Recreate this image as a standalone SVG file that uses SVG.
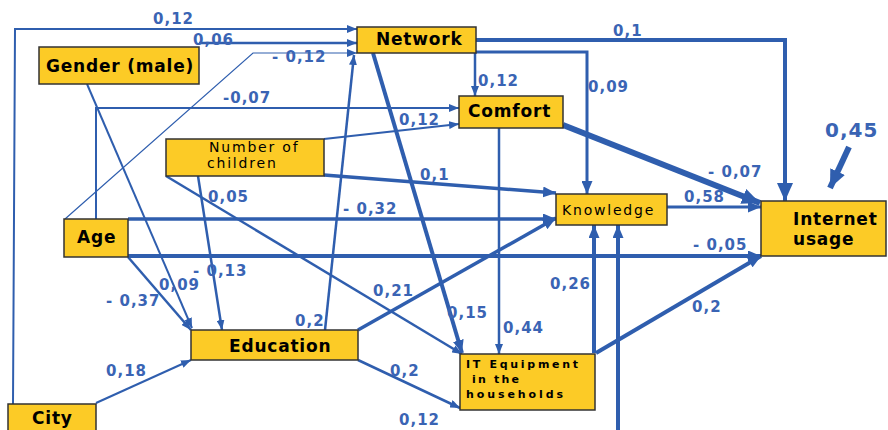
<svg xmlns="http://www.w3.org/2000/svg" width="888" height="430" viewBox="0 0 888 430">
<style>
.c{fill:none;stroke:#2f5eae;stroke-linejoin:miter}
.n rect{fill:#fccb26;stroke:#333;stroke-width:1.5}
.nt{font-family:"DejaVu Sans",sans-serif;font-weight:bold;font-size:17px;letter-spacing:0.8px;fill:#000}
.ns{font-family:"DejaVu Sans",sans-serif;font-size:14px;letter-spacing:1.8px;fill:#000}
.it{font-family:"DejaVu Sans",sans-serif;font-weight:bold;font-size:11px;fill:#000}
.l{font-family:"DejaVu Sans",sans-serif;font-weight:bold;font-size:15px;letter-spacing:1px;fill:#3a64b4}
</style>
<defs>
<marker id="a" markerUnits="userSpaceOnUse" markerWidth="10" markerHeight="8" refX="10" refY="4" orient="auto"><path d="M0,0 L10,4 L0,8 z" fill="#2f5eae"/></marker>
<marker id="m" markerUnits="userSpaceOnUse" markerWidth="13" markerHeight="11" refX="13" refY="5.5" orient="auto"><path d="M0,0 L13,5.5 L0,11 z" fill="#2f5eae"/></marker>
<marker id="b" markerUnits="userSpaceOnUse" markerWidth="18" markerHeight="16" refX="18" refY="8" orient="auto"><path d="M0,0 L18,8 L0,16 z" fill="#2f5eae"/></marker>
</defs>
<g id="connectors">
<path class="c" d="M13,404 L15,29 L357,29" stroke-width="2" marker-end="url(#a)"/>
<path class="c" d="M199,43 L357,43" stroke-width="2.5" marker-end="url(#a)"/>
<path class="c" d="M65,219 L253,53 L357,53" stroke-width="1.2" marker-end="url(#a)"/>
<path class="c" d="M96,219 L96,108 L459,108" stroke-width="2" marker-end="url(#a)"/>
<path class="c" d="M324,139 L459,124" stroke-width="2" marker-end="url(#a)"/>
<path class="c" d="M475,53 L475,96" stroke-width="2.5" marker-end="url(#a)"/>
<path class="c" d="M476,52 L587,52 L587,194" stroke-width="3" marker-end="url(#m)"/>
<path class="c" d="M476,40 L785,40 L785,201" stroke-width="4" marker-end="url(#b)"/>
<path class="c" d="M563,125 L760,203" stroke-width="6" marker-end="url(#b)"/>
<path class="c" d="M667,207 L761,207" stroke-width="3" marker-end="url(#m)"/>
<path class="c" d="M373,53 L462,353" stroke-width="4" marker-end="url(#m)"/>
<path class="c" d="M499,128 L499,354" stroke-width="2.5" marker-end="url(#a)"/>
<path class="c" d="M325,330 L354,55" stroke-width="2.5" marker-end="url(#a)"/>
<path class="c" d="M358,330 L556,218" stroke-width="3.5" marker-end="url(#m)"/>
<path class="c" d="M358,360 L460,408" stroke-width="2.5" marker-end="url(#a)"/>
<path class="c" d="M128,219 L556,219" stroke-width="3.5" marker-end="url(#m)"/>
<path class="c" d="M128,256 L761,256" stroke-width="4" marker-end="url(#m)"/>
<path class="c" d="M324,175 L556,193" stroke-width="3.5" marker-end="url(#m)"/>
<path class="c" d="M166,176 L462,354" stroke-width="2.5" marker-end="url(#a)"/>
<path class="c" d="M198,176 L222,330" stroke-width="2.5" marker-end="url(#a)"/>
<path class="c" d="M87,84 L192,328" stroke-width="2" marker-end="url(#a)"/>
<path class="c" d="M128,257 L191,330" stroke-width="2.5" marker-end="url(#a)"/>
<path class="c" d="M96,403 L191,360" stroke-width="2" marker-end="url(#a)"/>
<path class="c" d="M618,432 L618,225" stroke-width="4" marker-end="url(#m)"/>
<path class="c" d="M594,353 L594,225" stroke-width="4" marker-end="url(#m)"/>
<path class="c" d="M596,353 L761,256" stroke-width="4" marker-end="url(#m)"/>
<path class="c" d="M849,147 L830,188" stroke-width="6" marker-end="url(#b)"/>
</g>
<g id="labels">
<text class="l" x="153" y="24">0,12</text>
<text class="l" x="193" y="45">0,06</text>
<text class="l" x="272" y="62">- 0,12</text>
<text class="l" x="223" y="103">-0,07</text>
<text class="l" x="399" y="125">0,12</text>
<text class="l" x="478" y="86">0,12</text>
<text class="l" x="588" y="92">0,09</text>
<text class="l" x="613" y="36">0,1</text>
<text class="l" x="825" y="137" style="font-size:20px">0,45</text>
<text class="l" x="708" y="177">- 0,07</text>
<text class="l" x="684" y="202">0,58</text>
<text class="l" x="420" y="180">0,1</text>
<text class="l" x="208" y="202">0,05</text>
<text class="l" x="343" y="214">- 0,32</text>
<text class="l" x="193" y="276">- 0,13</text>
<text class="l" x="159" y="290">0,09</text>
<text class="l" x="106" y="306">- 0,37</text>
<text class="l" x="373" y="296">0,21</text>
<text class="l" x="295" y="326">0,2</text>
<text class="l" x="106" y="376">0,18</text>
<text class="l" x="390" y="376">0,2</text>
<text class="l" x="399" y="425">0,12</text>
<text class="l" x="447" y="318">0,15</text>
<text class="l" x="503" y="333">0,44</text>
<text class="l" x="550" y="289">0,26</text>
<text class="l" x="692" y="312">0,2</text>
<text class="l" x="693" y="250">- 0,05</text>
</g>
<g id="network" class="n"><rect x="357" y="27" width="119" height="26"/><text class="nt" x="376" y="45">Network</text></g>
<g id="comfort" class="n"><rect x="459" y="96" width="104" height="32"/><text class="nt" x="468" y="117">Comfort</text></g>
<g id="gender" class="n"><rect x="39" y="47" width="160" height="37"/><text class="nt" x="46" y="72">Gender (male)</text></g>
<g id="children" class="n"><rect x="166" y="139" width="158" height="37"/><text class="ns" x="209" y="152">Number of</text><text class="ns" x="207" y="168">children</text></g>
<g id="age" class="n"><rect x="64" y="219" width="64" height="38"/><text class="nt" x="77" y="243">Age</text></g>
<g id="education" class="n"><rect x="191" y="330" width="167" height="30"/><text class="nt" x="229" y="352">Education</text></g>
<g id="city" class="n"><rect x="8" y="404" width="88" height="32"/><text class="nt" x="32" y="424">City</text></g>
<g id="knowledge" class="n"><rect x="556" y="194" width="111" height="31"/><text class="ns" x="562" y="215">Knowledge</text></g>
<g id="internet" class="n"><rect x="761" y="201" width="125" height="55"/><text class="nt" x="793" y="225">Internet</text><text class="nt" x="793" y="245">usage</text></g>
<g id="itequipment" class="n"><rect x="460" y="354" width="135" height="56"/><text class="it" x="466" y="368" textLength="112" lengthAdjust="spacing">IT Equipment</text><text class="it" x="472" y="383" textLength="47" lengthAdjust="spacing">in the</text><text class="it" x="466" y="398" textLength="97" lengthAdjust="spacing">households</text></g>
</svg>
